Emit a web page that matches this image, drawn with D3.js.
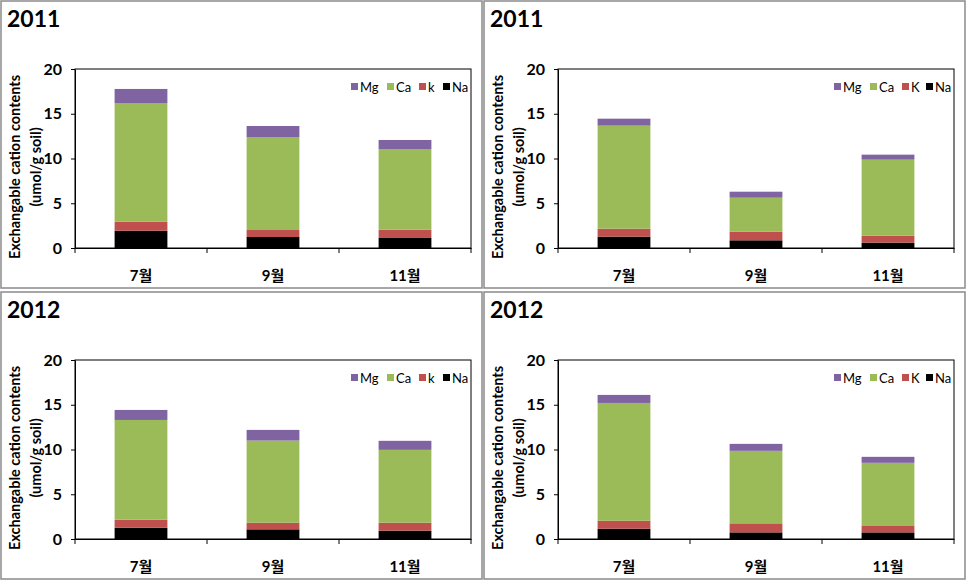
<!DOCTYPE html>
<html>
<head>
<meta charset="utf-8">
<script src="https://cdn.jsdelivr.net/npm/d3@7/dist/d3.min.js"></script>
<style>
  html, body { margin: 0; padding: 0; background: #fff; }
  svg { display: block; }
  text { font-family: Lato, "Noto Sans CJK KR", sans-serif; }
</style>
</head>
<body>
<svg id="chart" width="968" height="584"></svg>
<script>
const categories = ["7월", "9월", "11월"];
const seriesKeys = ["Na", "K", "Ca", "Mg"];
const yTicks = [0, 5, 10, 15, 20];
const panelTitles = ["2011", "2011", "2012", "2012"];
const legendLabelsLower = ["Mg", "Ca", "k", "Na"];
const legendLabelsUpper = ["Mg", "Ca", "K", "Na"];
const yTitleLines = ["Exchangable cation contents", "(umol/g soil)"];

// segment values per panel (bottom to top: Na, K, Ca, Mg)
const p1Na = [1.93, 1.23, 1.12];
const p1K  = [1.00, 0.78, 0.92];
const p1Ca = [13.27, 10.39, 9.02];
const p1Mg = [1.57, 1.23, 1.01];

const p2Na = [1.27, 0.86, 0.60];
const p2K  = [0.89, 0.96, 0.78];
const p2Ca = [11.51, 3.80, 8.49];
const p2Mg = [0.78, 0.67, 0.56];

const p3Na = [1.26, 1.08, 0.93];
const p3K  = [0.90, 0.74, 0.89];
const p3Ca = [11.14, 9.18, 8.14];
const p3Mg = [1.12, 1.19, 1.01];

const p4Na = [1.15, 0.74, 0.74];
const p4K  = [0.89, 1.01, 0.78];
const p4Ca = [13.16, 8.10, 6.99];
const p4Mg = [0.90, 0.78, 0.67];

const colors = { Na: "#000000", K: "#C0504D", Ca: "#9BBB59", Mg: "#8064A2" };

function rows(na, k, ca, mg) {
  return categories.map((c, i) => ({ cat: c, Na: na[i], K: k[i], Ca: ca[i], Mg: mg[i] }));
}

const panels = [
  { x: 1,   y: 1,   title: panelTitles[0], data: rows(p1Na, p1K, p1Ca, p1Mg), legend: legendLabelsLower },
  { x: 484, y: 1,   title: panelTitles[1], data: rows(p2Na, p2K, p2Ca, p2Mg), legend: legendLabelsUpper },
  { x: 1,   y: 292, title: panelTitles[2], data: rows(p3Na, p3K, p3Ca, p3Mg), legend: legendLabelsLower },
  { x: 484, y: 292, title: panelTitles[3], data: rows(p4Na, p4K, p4Ca, p4Mg), legend: legendLabelsUpper }
];

const svg = d3.select("#chart");
svg.append("rect").attr("width", 968).attr("height", 584).attr("fill", "#fff");

const PW = 481, PH = 287;
const plot = { left: 74, right: 470, top: 68, bottom: 247 };

panels.forEach(p => {
  const g = svg.append("g").attr("transform", `translate(${p.x},${p.y})`);
  g.append("rect").attr("x", 0).attr("y", 0).attr("width", PW).attr("height", PH)
    .attr("fill", "#fff").attr("stroke", "#8a8a8a").attr("stroke-width", 1.5);

  g.append("text").attr("x", 6).attr("y", 26)
    .attr("font-size", 23).attr("font-weight", "bold").attr("fill", "#000")
    .text(p.title);

  const x = d3.scaleBand().domain(categories)
    .range([plot.left, plot.right]).paddingInner(0.6).paddingOuter(0.3);
  const y = d3.scaleLinear().domain([0, 20]).range([plot.bottom, plot.top]);

  // plot frame
  g.append("rect").attr("x", plot.left).attr("y", plot.top)
    .attr("width", plot.right - plot.left).attr("height", plot.bottom - plot.top)
    .attr("fill", "none").attr("stroke", "#000").attr("stroke-width", 1);

  // stacked bars
  const stack = d3.stack().keys(seriesKeys)(p.data);
  g.append("g").selectAll("g").data(stack).join("g")
    .attr("fill", d => colors[d.key])
    .selectAll("rect").data(d => d).join("rect")
    .attr("x", d => x(d.data.cat))
    .attr("width", x.bandwidth())
    .attr("y", d => y(d[1]))
    .attr("height", d => y(d[0]) - y(d[1]));

  // y axis
  const yAxis = g.append("g").attr("transform", `translate(${plot.left},0)`)
    .call(d3.axisLeft(y).tickValues(yTicks).tickSize(4).tickPadding(9).tickSizeOuter(0));
  yAxis.select(".domain").attr("stroke", "#000");
  yAxis.selectAll("text").attr("font-size", 16).attr("font-weight", "bold")
    .attr("fill", "#000").attr("font-family", "Lato, sans-serif");

  // x axis (labels at centres, ticks at band boundaries)
  const xAxis = g.append("g").attr("transform", `translate(0,${plot.bottom})`)
    .call(d3.axisBottom(x).tickSize(0).tickPadding(22).tickSizeOuter(0));
  xAxis.select(".domain").attr("stroke", "#000");
  xAxis.selectAll("text").attr("font-size", 15).attr("font-weight", "bold")
    .attr("fill", "#000").attr("font-family", "Lato, 'Noto Sans CJK KR', sans-serif");
  const bounds = d3.range(categories.length + 1).map(i => plot.left + i * x.step());
  xAxis.selectAll("line.bound").data(bounds).join("line").attr("class", "bound")
    .attr("x1", d => d).attr("x2", d => d).attr("y1", 0).attr("y2", 5)
    .attr("stroke", "#000");

  // y axis title
  const cy = 166;
  const tg = g.append("g");
  yTitleLines.forEach((t, i) => {
    tg.append("text")
      .attr("transform", `translate(${13 + i * 21},${cy}) rotate(-90)`)
      .attr("text-anchor", "middle").attr("dominant-baseline", "central")
      .attr("font-size", 14.5).attr("font-weight", "bold").attr("fill", "#000")
      .text(t);
  });

  // legend
  const legendKeys = ["Mg", "Ca", "K", "Na"];
  const lx = [350, 386, 418, 442];
  const leg = g.append("g");
  legendKeys.forEach((k, i) => {
    leg.append("rect").attr("x", lx[i]).attr("y", 82).attr("width", 7).attr("height", 7)
      .attr("fill", colors[k]);
    leg.append("text").attr("x", lx[i] + 9).attr("y", 90.5)
      .attr("font-size", 13).attr("fill", "#000")
      .attr("font-family", "'Open Sans', sans-serif")
      .text(p.legend[i]);
  });
});
</script>
</body>
</html>
